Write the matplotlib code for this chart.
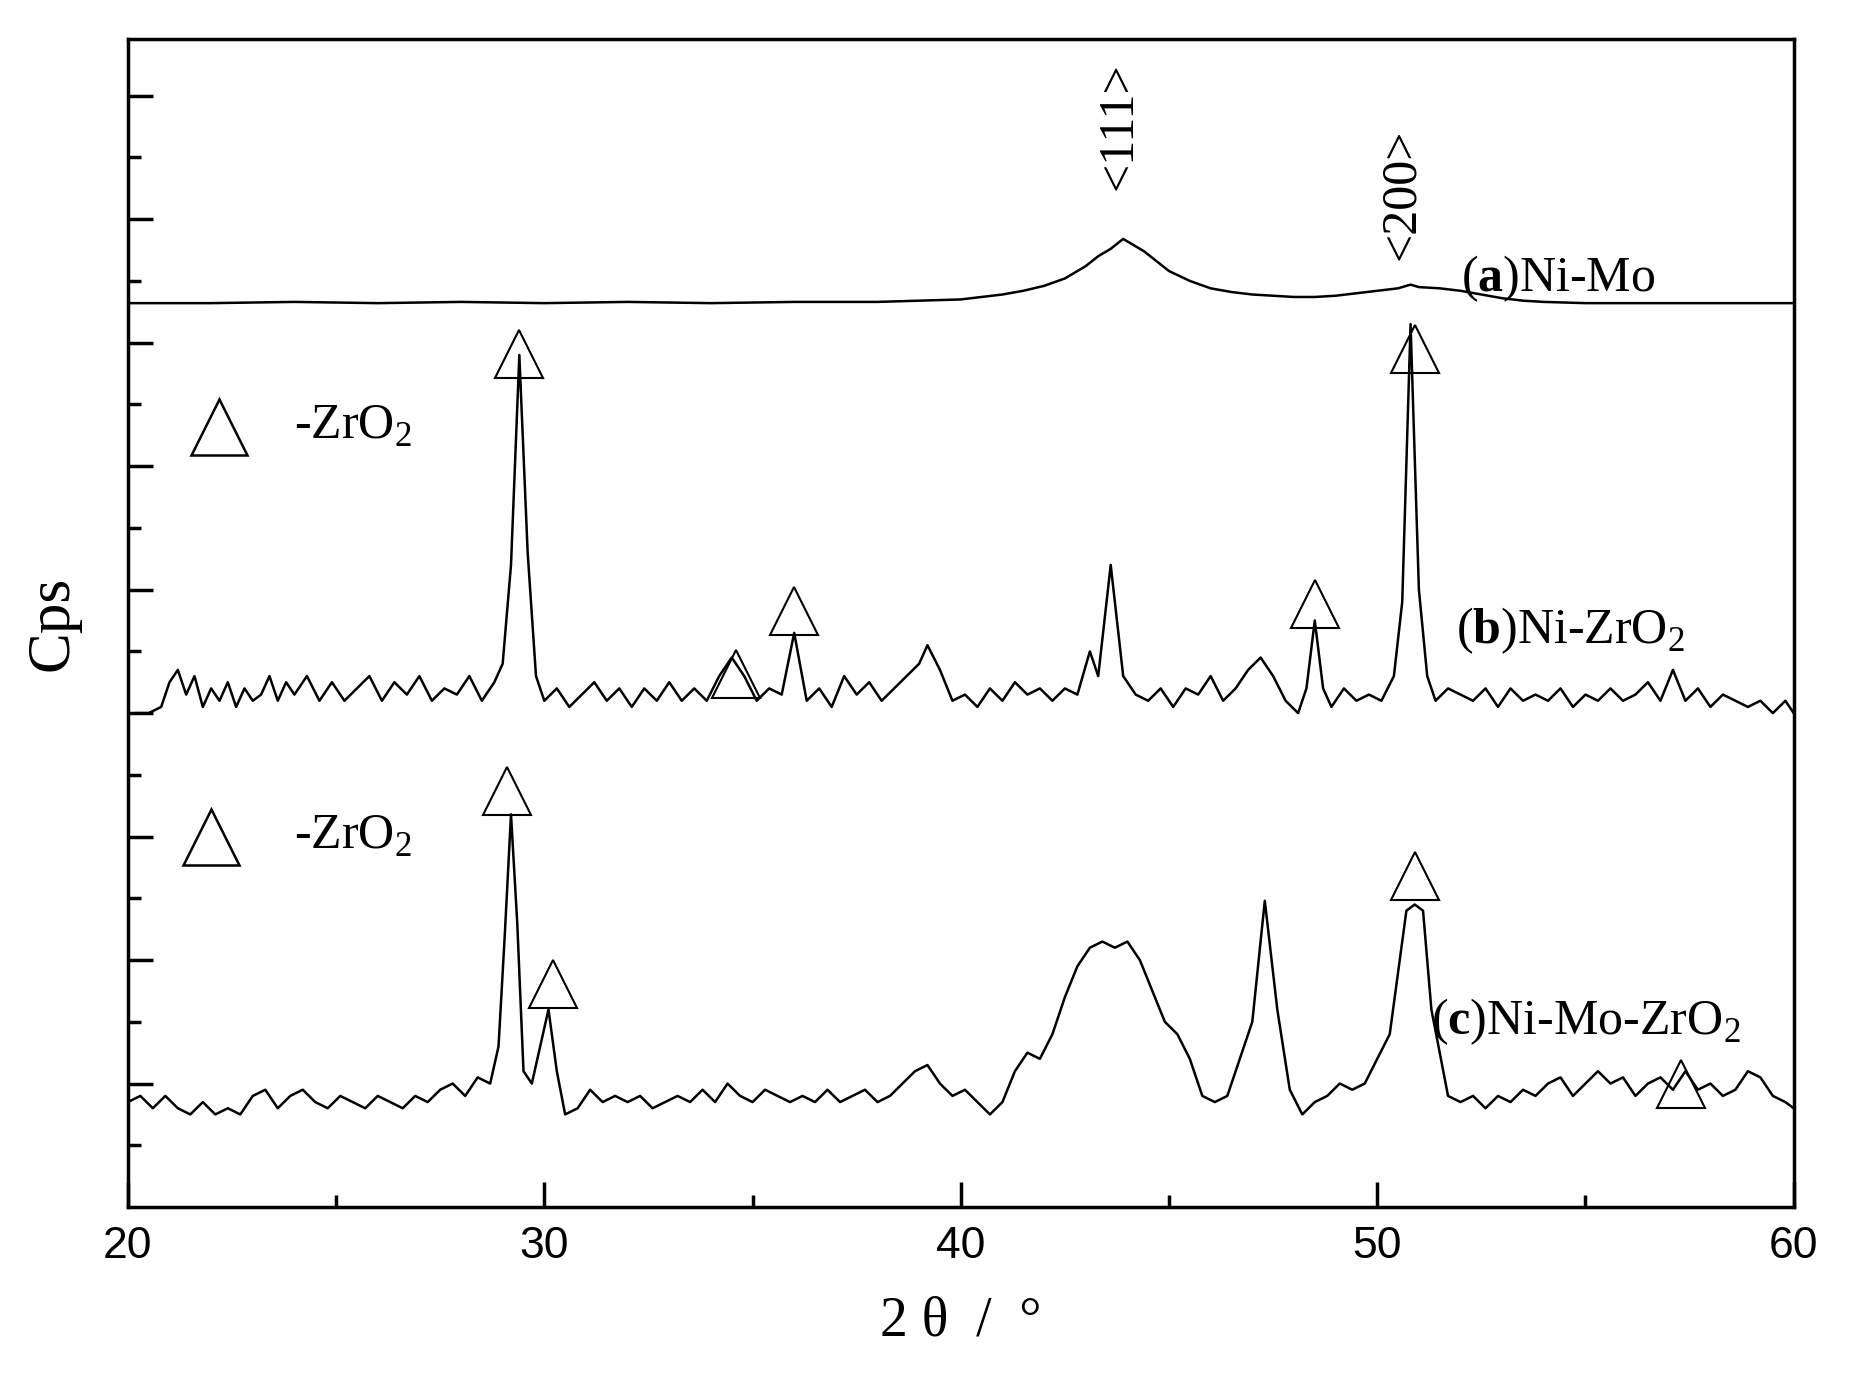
import matplotlib
matplotlib.use("Agg")
import matplotlib.pyplot as plt
import numpy as np

plt.rcParams["mathtext.fontset"] = "custom"
plt.rcParams["mathtext.rm"] = "Liberation Serif"
plt.rcParams["mathtext.bf"] = "Liberation Serif:bold"

# ---- data (curve a: Ni-Mo)
xa = [20,22,24,26,28,30,32,34,36,38,39,40,40.5,41,41.5,42,42.5,43,43.3,43.6,43.9,44.1,44.4,44.7,45,45.5,46,46.5,47,47.5,48,48.5,49,49.5,50,50.5,50.8,51,51.5,52,52.5,53,53.5,54,55,56,58,60]
ya = [7.32,7.32,7.33,7.32,7.33,7.32,7.33,7.32,7.33,7.33,7.34,7.35,7.37,7.39,7.42,7.46,7.52,7.62,7.70,7.76,7.84,7.80,7.74,7.66,7.58,7.50,7.44,7.41,7.39,7.38,7.37,7.37,7.38,7.40,7.42,7.44,7.47,7.45,7.44,7.42,7.39,7.36,7.34,7.33,7.32,7.32,7.32,7.32]

# curve b: Ni-ZrO2
xb = [20.2,20.5,20.8,21.0,21.2,21.4,21.6,21.8,22.0,22.2,22.4,22.6,22.8,23.0,23.2,23.4,23.6,23.8,24.0,24.3,24.6,24.9,25.2,25.5,25.8,26.1,26.4,26.7,27.0,27.3,27.6,27.9,28.2,28.5,28.8,29.0,29.2,29.4,29.6,29.8,30.0,30.3,30.6,30.9,31.2,31.5,31.8,32.1,32.4,32.7,33.0,33.3,33.6,33.9,34.2,34.5,34.8,35.1,35.4,35.7,36.0,36.3,36.6,36.9,37.2,37.5,37.8,38.1,38.4,38.7,39.0,39.2,39.5,39.8,40.1,40.4,40.7,41.0,41.3,41.6,41.9,42.2,42.5,42.8,43.1,43.3,43.6,43.9,44.2,44.5,44.8,45.1,45.4,45.7,46.0,46.3,46.6,46.9,47.2,47.5,47.8,48.1,48.3,48.5,48.7,48.9,49.2,49.5,49.8,50.1,50.4,50.6,50.8,51.0,51.2,51.4,51.7,52.0,52.3,52.6,52.9,53.2,53.5,53.8,54.1,54.4,54.7,55.0,55.3,55.6,55.9,56.2,56.5,56.8,57.1,57.4,57.7,58.0,58.3,58.6,58.9,59.2,59.5,59.8,60.0]
yb = [4.0,4.0,4.05,4.25,4.35,4.15,4.3,4.05,4.2,4.1,4.25,4.05,4.2,4.1,4.15,4.3,4.1,4.25,4.15,4.3,4.1,4.25,4.1,4.2,4.3,4.1,4.25,4.15,4.3,4.1,4.2,4.15,4.3,4.1,4.25,4.4,5.2,6.9,5.3,4.3,4.1,4.2,4.05,4.15,4.25,4.1,4.2,4.05,4.2,4.1,4.25,4.1,4.2,4.1,4.3,4.45,4.3,4.1,4.2,4.15,4.65,4.1,4.2,4.05,4.3,4.15,4.25,4.1,4.2,4.3,4.4,4.55,4.35,4.1,4.15,4.05,4.2,4.1,4.25,4.15,4.2,4.1,4.2,4.15,4.5,4.3,5.2,4.3,4.15,4.1,4.2,4.05,4.2,4.15,4.3,4.1,4.2,4.35,4.45,4.3,4.1,4.0,4.2,4.75,4.2,4.05,4.2,4.1,4.15,4.1,4.3,4.9,7.15,5.0,4.3,4.1,4.2,4.15,4.1,4.2,4.05,4.2,4.1,4.15,4.1,4.2,4.05,4.15,4.1,4.2,4.1,4.15,4.25,4.1,4.35,4.1,4.2,4.05,4.15,4.1,4.05,4.1,4.0,4.1,4.0,4.05]

# curve c: Ni-Mo-ZrO2
xc = [20.0,20.3,20.6,20.9,21.2,21.5,21.8,22.1,22.4,22.7,23.0,23.3,23.6,23.9,24.2,24.5,24.8,25.1,25.4,25.7,26.0,26.3,26.6,26.9,27.2,27.5,27.8,28.1,28.4,28.7,28.9,29.05,29.2,29.35,29.5,29.7,29.9,30.1,30.3,30.5,30.8,31.1,31.4,31.7,32.0,32.3,32.6,32.9,33.2,33.5,33.8,34.1,34.4,34.7,35.0,35.3,35.6,35.9,36.2,36.5,36.8,37.1,37.4,37.7,38.0,38.3,38.6,38.9,39.2,39.5,39.8,40.1,40.4,40.7,41.0,41.3,41.6,41.9,42.2,42.5,42.8,43.1,43.4,43.7,44.0,44.3,44.6,44.9,45.2,45.5,45.8,46.1,46.4,46.7,47.0,47.3,47.6,47.9,48.2,48.5,48.8,49.1,49.4,49.7,50.0,50.3,50.5,50.7,50.9,51.1,51.3,51.5,51.7,52.0,52.3,52.6,52.9,53.2,53.5,53.8,54.1,54.4,54.7,55.0,55.3,55.6,55.9,56.2,56.5,56.8,57.1,57.4,57.7,58.0,58.3,58.6,58.9,59.2,59.5,59.8,60.0]
yc = [0.85,0.9,0.8,0.9,0.8,0.75,0.85,0.75,0.8,0.75,0.9,0.95,0.8,0.9,0.95,0.85,0.8,0.9,0.85,0.8,0.9,0.85,0.8,0.9,0.85,0.95,1.0,0.9,1.05,1.0,1.3,2.2,3.18,2.3,1.1,1.0,1.3,1.6,1.1,0.75,0.8,0.95,0.85,0.9,0.85,0.9,0.8,0.85,0.9,0.85,0.95,0.85,1.0,0.9,0.85,0.95,0.9,0.85,0.9,0.85,0.95,0.85,0.9,0.95,0.85,0.9,1.0,1.1,1.15,1.0,0.9,0.95,0.85,0.75,0.85,1.1,1.25,1.2,1.4,1.7,1.95,2.1,2.15,2.1,2.15,2.0,1.75,1.5,1.4,1.2,0.9,0.85,0.9,1.2,1.5,2.48,1.6,0.95,0.75,0.85,0.9,1.0,0.95,1.0,1.2,1.4,1.9,2.4,2.45,2.4,1.6,1.25,0.9,0.85,0.9,0.8,0.9,0.85,0.95,0.9,1.0,1.05,0.9,1.0,1.1,1.0,1.05,0.9,1.0,1.05,0.95,1.1,0.95,1.0,0.9,0.95,1.1,1.05,0.9,0.85,0.8]

tri_x = [29.4, 34.6, 36.0, 48.5, 50.9, 29.1, 30.2, 50.9, 57.3]
tri_y = [6.91, 4.32, 4.83, 4.88, 6.95, 3.37, 1.81, 2.68, 1.0]

serif = "Liberation Serif"
fig = plt.figure(figsize=(18.53, 13.89), dpi=100)
ax = fig.add_axes([0.069, 0.131, 0.899, 0.841])
for x, y in [(xa, ya), (xb, yb), (xc, yc)]:
    n = min(len(x), len(y))
    ax.plot(x[:n], y[:n], color="black", lw=1.8)
ax.plot(tri_x, tri_y, ls="none", marker="^", ms=34, mfc="none", mec="black", mew=1.5)
ax.plot([22.2, 22.0], [6.32, 3.0], ls="none", marker="^", ms=40, mfc="none", mec="black", mew=1.8)

ax.set_xlim(20, 60)
ax.set_ylim(0, 9.46)
ax.set_xticks([20, 30, 40, 50, 60])
ax.set_xticks([25, 35, 45, 55], minor=True)
ax.set_yticks(range(1, 10))
ax.set_yticks(np.arange(0.5, 9.4, 1.0), minor=True)
ax.set_yticklabels([])
ax.tick_params(direction="in", which="major", length=18, width=2.5, labelsize=32, pad=14)
ax.tick_params(direction="in", which="minor", length=9, width=2.5)
for lab in ax.get_xticklabels():
    lab.set_fontfamily("Liberation Sans")
for s in ax.spines.values():
    s.set_linewidth(2.5)

ax.set_ylabel("Cps", fontsize=44, family=serif, labelpad=20)
ax.set_xlabel("2 θ  /  °", fontsize=40, family=serif, labelpad=20)

fs = 36
ax.text(24.0, 6.32, "-ZrO$_2$", fontsize=fs, family=serif, va="center")
ax.text(24.0, 3.0, "-ZrO$_2$", fontsize=fs, family=serif, va="center")
ax.text(52.0, 7.52, r"($\mathbf{a}$)Ni-Mo", fontsize=fs, family=serif, va="center")
ax.text(51.9, 4.67, r"($\mathbf{b}$)Ni-ZrO$_2$", fontsize=fs, family=serif, va="center")
ax.text(51.3, 1.5, r"($\mathbf{c}$)Ni-Mo-ZrO$_2$", fontsize=fs, family=serif, va="center")
ax.text(43.8, 8.75, "<111>", fontsize=fs, family=serif, rotation=90, ha="center", va="center")
ax.text(50.6, 8.2, "<200>", fontsize=fs, family=serif, rotation=90, ha="center", va="center")
fig.savefig("out.png", dpi=100)
